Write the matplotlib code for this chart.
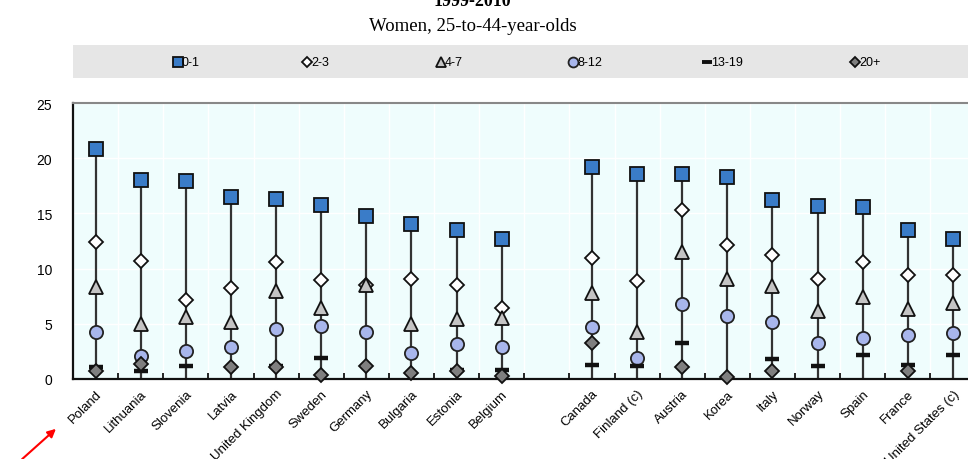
import numpy as np
import matplotlib
matplotlib.use("Agg")
import matplotlib.pyplot as plt
from matplotlib.lines import Line2D
from matplotlib.patches import Rectangle, FancyArrowPatch

nan = np.nan

# Länder (zwei Gruppen, dazwischen eine Lücke)
group_a = ["Poland", "Lithuania", "Slovenia", "Latvia", "United Kingdom",
           "Sweden", "Germany", "Bulgaria", "Estonia", "Belgium"]
group_b = ["Canada", "Finland (c)", "Austria", "Korea", "Italy",
           "Norway", "Spain", "France", "United States (c)"]

# Werte je Dauer-Kategorie
v_0_1 = [20.8, 18.0, 17.9, 16.5, 16.3, 15.8, 14.8, 14.0, 13.5, 12.7,
         19.2, 18.6, 18.6, 18.3, 16.2, 15.7, 15.6, 13.5, 12.7]
v_2_3 = [12.4, 10.7, 7.2, 8.2, 10.6, 9.0, 8.5, 9.1, 8.5, 6.4,
         11.0, 8.9, 15.3, 12.1, 11.2, 9.1, 10.6, 9.4, 9.4]
v_4_7 = [8.3, 5.0, 5.6, 5.2, 8.0, 6.4, 8.5, 5.0, 5.4, 5.5,
         7.8, 4.3, 11.5, 9.1, 8.4, 6.2, 7.4, 6.3, 6.9]
v_8_12 = [4.3, 2.1, 2.5, 2.9, 4.5, 4.8, 4.3, 2.4, 3.2, 2.9,
          4.7, 1.9, 6.8, 5.7, 5.2, 3.3, 3.7, 4.0, 4.2]
v_13_19 = [1.1, 0.7, 1.2, nan, 1.2, 1.9, nan, nan, 0.8, 0.8,
           1.3, 1.2, 3.3, nan, 1.8, 1.2, 2.2, 1.3, 2.2]
v_20p = [0.7, 1.4, nan, 1.1, 1.1, 0.4, 1.2, 0.5, 0.7, 0.3,
         3.3, nan, 1.1, 0.2, 0.7, nan, nan, 0.7, nan]

labels = group_a + group_b
x = np.r_[np.arange(len(group_a)), np.arange(len(group_b)) + len(group_a) + 1]

plt.rcParams["font.family"] = ["Liberation Sans", "DejaVu Sans"]

fig = plt.figure(figsize=(9.68, 4.6), dpi=100)
ax = fig.add_axes([73 / 968, 80 / 460, 902.5 / 968, 276 / 460])
ax.set_facecolor("#effdfd")

# senkrechte Linien von 0 bis zum höchsten Wert
tops = np.nanmax(np.vstack([v_0_1, v_2_3, v_4_7, v_8_12, v_13_19, v_20p]), axis=0)
ax.vlines(x, 0, tops, color="#333333", lw=1.6, zorder=2)

series = [
    ("0-1", v_0_1, dict(marker="s", ms=9.5, mfc="#3a7cc8", mec="#111111", mew=1.3)),
    ("2-3", v_2_3, dict(marker="D", ms=7, mfc="white", mec="#111111", mew=1.3)),
    ("4-7", v_4_7, dict(marker="^", ms=10, mfc="#c4c4c4", mec="#111111", mew=1.3)),
    ("8-12", v_8_12, dict(marker="o", ms=9.5, mfc="#a8b6ec", mec="#222222", mew=1.3)),
    ("13-19", v_13_19, dict(marker="_", ms=10, mfc="#111111", mec="#111111", mew=3.2)),
    ("20+", v_20p, dict(marker="D", ms=7, mfc="#7f7f7f", mec="#111111", mew=1.3)),
]
for name, vals, st in series:
    ax.plot(x, vals, ls="none", zorder=3, clip_on=False, **st)

ax.set_xlim(-0.5, x[-1] + 0.5)
ax.set_ylim(0, 25)
ax.set_yticks([0, 5, 10, 15, 20, 25])
ax.tick_params(axis="y", length=0, labelsize=10, pad=15)
ax.set_xticks(x)
ax.set_xticklabels(labels, rotation=45, ha="right", rotation_mode="anchor", fontsize=9.5)
ax.tick_params(axis="x", length=0, pad=6)
ax.set_xticks(np.arange(-0.5, x[-1] + 1, 1), minor=True)
ax.tick_params(axis="x", which="minor", direction="in", length=4, width=1.2)

ax.grid(True, which="minor", axis="x", color="white", lw=1)
ax.grid(True, which="major", axis="y", color="white", lw=1)
ax.grid(False, which="major", axis="x")
ax.set_axisbelow(True)

for s in ["left", "bottom"]:
    ax.spines[s].set_linewidth(1.6)
    ax.spines[s].set_color("#111111")
ax.spines["top"].set_color("#888888")
ax.spines["top"].set_linewidth(1.5)
ax.spines["right"].set_visible(False)

# Titel
fig.text(0.488, 1 - 6 / 460, "1999-2010", ha="center", va="baseline",
         fontsize=13, fontweight="bold", family="Liberation Serif")
fig.text(0.488, 1 - 31 / 460, "Women, 25-to-44-year-olds", ha="center",
         va="baseline", fontsize=13.5, family="Liberation Serif")

# Legende im grauen Band
fig.add_artist(Rectangle((73 / 968, 1 - 79 / 460), 1, 33 / 460,
                         transform=fig.transFigure, facecolor="#e6e6e6",
                         edgecolor="none"))
leg_x = [178, 307, 441, 573, 707, 855]
leg_y = 1 - 63 / 460
for (name, vals, st), lx in zip(series, leg_x):
    st2 = dict(st)
    st2["ms"] = st2["ms"] * 0.75
    if st2["marker"] == "_":
        st2["mew"] = 2.8
    fig.add_artist(Line2D([lx / 968], [leg_y], transform=fig.transFigure, **st2))
    fig.text((lx + 4) / 968, leg_y, name, ha="left", va="center", fontsize=9)

# roter Pfeil
fig.add_artist(FancyArrowPatch((20 / 968, 1 - 462 / 460), (58 / 968, 1 - 428 / 460),
                               transform=fig.transFigure, arrowstyle="-|>",
                               mutation_scale=12, color="red", lw=1.5))

fig.savefig("out.png", dpi=100)
